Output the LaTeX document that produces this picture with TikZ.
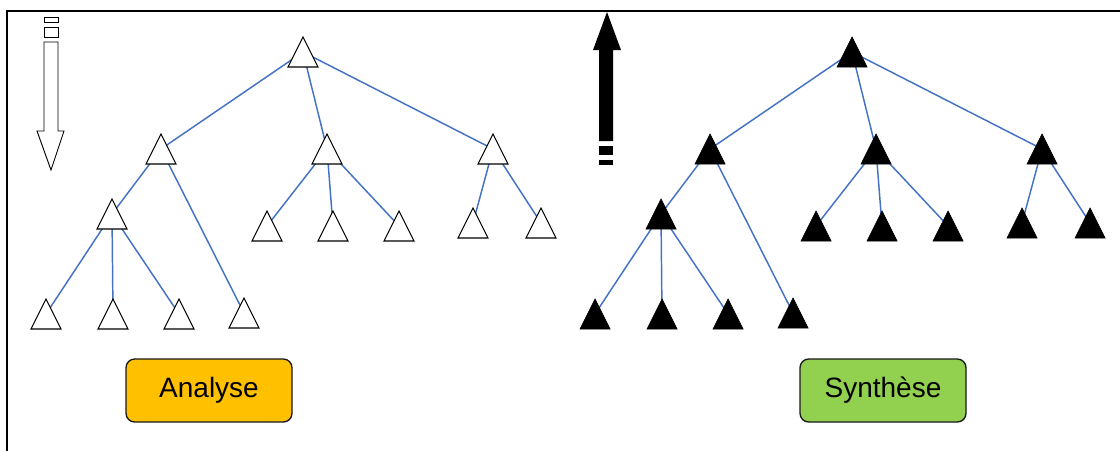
\documentclass[tikz,border=0pt]{standalone}
\usepackage{fontspec}
\setmainfont{Liberation Sans}
\definecolor{edgeblue}{HTML}{4472C4}
\definecolor{anaorange}{HTML}{FFC000}
\definecolor{syngreen}{HTML}{92D050}
\newcommand\mytree[3]{%
  \foreach \n/\x/\y in {r/303/52,a/161/149,b/327/149,c/493/149,a1/112/214,a2/244/313,a11/46/314,a12/113/314,a13/179/314,b1/267/226,b2/333/226,b3/399/226,c1/473/223,c2/541/223}
    {\coordinate (#1\n) at (\x+#3,\y);}
  \foreach \u/\v in {r/a,r/b,r/c,a/a1,a/a2,a1/a11,a1/a12,a1/a13,b/b1,b/b2,b/b3,c/c1,c/c2}
    {\draw[edge] (#1\u) -- (#1\v);}
  \foreach \n in {r,a,b,c,a1,a2,a11,a12,a13,b1,b2,b3,c1,c2}
    {\path[#2,shift={(#1\n)}] (-15,15) -- (0,-15) -- (15,15) -- cycle;}
}
\begin{document}
\begin{tikzpicture}[x=0.75pt,y=-0.75pt,
  edge/.style={draw=edgeblue,line width=1.1pt},
  wtri/.style={draw=black,fill=white,line width=0.8pt,line join=miter},
  btri/.style={draw=black,fill=black,line width=0.5pt,line join=miter},
  labelbox/.style={draw=black!90,line width=1pt,rounded corners=6.5pt,minimum width=124.5pt,minimum height=47.25pt,inner sep=0pt,font=\fontsize{21}{25}\selectfont},
  frameline/.style={draw=black,line width=1.6pt}]
\useasboundingbox (0,0) rectangle (1120,450);
\fill[white] (0,0) rectangle (1120,450);
% frame
\draw[frameline] (7,452) -- (7,11) -- (1122,11);
% down arrow (analysis)
\draw[black,line width=0.7pt,fill=white] (44,17) rectangle (58,22);
\draw[black,line width=0.7pt,fill=white] (44,27) rectangle (58,37);
\draw[black,line width=0.7pt,fill=white,line join=miter] (44,42) -- (58,42) -- (58,131) -- (64,131) -- (51,170) -- (37,131) -- (44,131) -- cycle;
% up arrow (synthesis)
\fill[black] (607,12) -- (621,50) -- (613,50) -- (613,141) -- (599,141) -- (599,50) -- (593,50) -- cycle;
\fill[black] (599,146) rectangle (613,155);
\fill[black] (599,160) rectangle (613,165);
% trees
\mytree{L}{wtri}{0}
\mytree{R}{btri}{549}
% labels
\node[labelbox,fill=anaorange] (analyse) at (209,390.5) {Analyse};
\node[labelbox,fill=syngreen] (synthese) at (883,390.5) {Synthèse};
\end{tikzpicture}
\end{document}
